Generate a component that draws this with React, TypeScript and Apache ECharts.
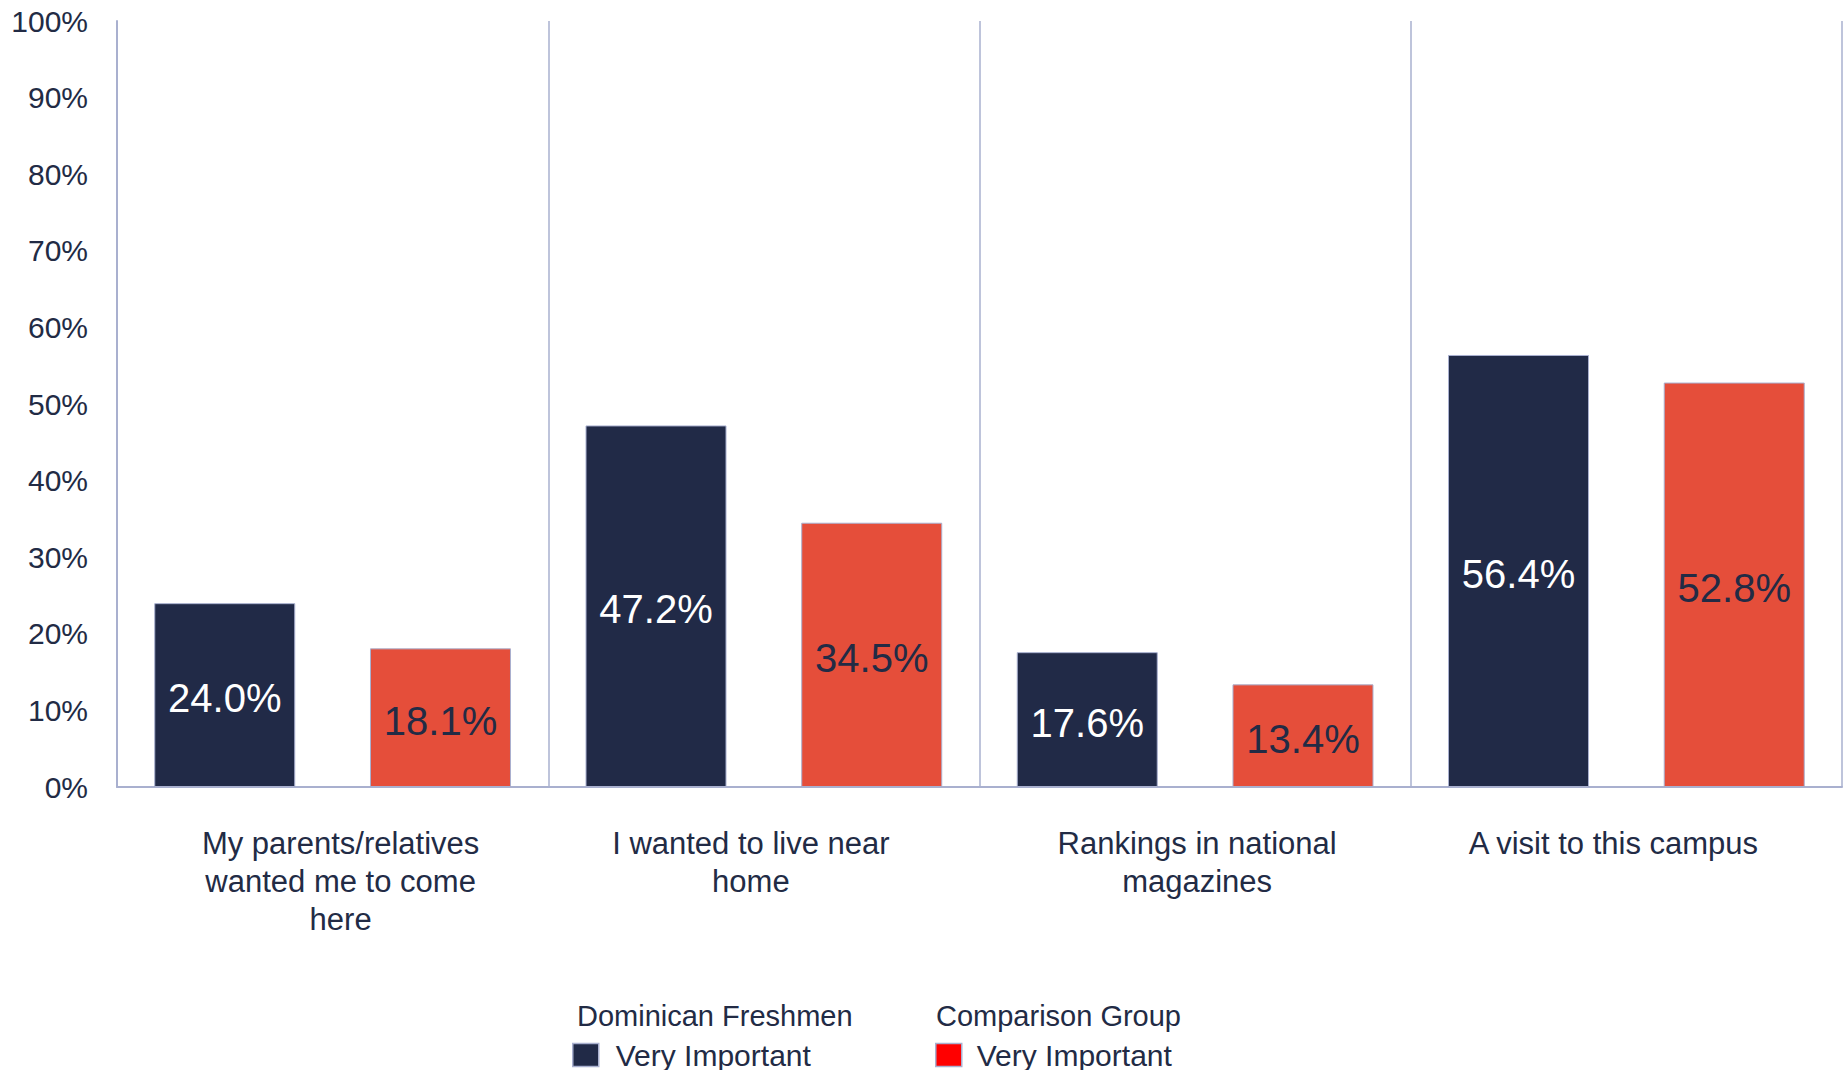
import React, { useEffect, useRef } from "react";
import * as echarts from "echarts";

const categories = [
  "My parents/relatives\nwanted me to come\nhere",
  "I wanted to live near\nhome",
  "Rankings in national\nmagazines",
  "A visit to this campus",
];
const dominicanValues = [24.0, 47.2, 17.6, 56.4];
const comparisonValues = [18.1, 34.5, 13.4, 52.8];
const seriesNames = ["Dominican Freshmen", "Comparison Group"];
const legendLabel = "Very Important";
const yTicks = { min: 0, max: 100, interval: 10 };

const NAVY = "#212a47";
const RED = "#e54e3a";
const LINE = "#a9b0cf";
const TEXT = "#222b45";
const FONT = "'Liberation Sans', Arial, sans-serif";

// small horizontal nudges of the category labels, as in the reference
const labelShift = [8, -13, 2, -13];

export default function App() {
  const ref = useRef<HTMLDivElement>(null);
  useEffect(() => {
    if (!ref.current) return;
    const chart = echarts.init(ref.current, undefined, { renderer: "svg" });
    chart.setOption({
      animation: false,
      backgroundColor: "#ffffff",
      grid: { left: 117, right: 4, top: 21, bottom: 283, containLabel: false },
      xAxis: {
        type: "category",
        data: categories.map((c, i) => ({
          value: c,
          textStyle: {
            padding: labelShift[i] >= 0 ? [0, 0, 0, 2 * labelShift[i]] : [0, -2 * labelShift[i], 0, 0],
          },
        })),
        boundaryGap: true,
        axisLine: { show: true, lineStyle: { color: LINE, width: 2 } },
        axisTick: { show: false },
        splitLine: { show: true, lineStyle: { color: LINE, width: 1.5 } },
        axisLabel: {
          color: TEXT,
          fontFamily: FONT,
          fontSize: 31,
          lineHeight: 38,
          margin: 37,
          interval: 0,
        },
      },
      yAxis: {
        type: "value",
        min: yTicks.min,
        max: yTicks.max,
        interval: yTicks.interval,
        axisLine: { show: true, lineStyle: { color: LINE, width: 2 } },
        axisTick: { show: false },
        splitLine: { show: false },
        axisLabel: {
          formatter: "{value}%",
          color: TEXT,
          fontFamily: FONT,
          fontSize: 30,
          margin: 29,
        },
      },
      legend: [
        {
          left: 567,
          top: 1035,
          itemWidth: 26,
          itemHeight: 23,
          icon: "rect",
          data: [{ name: seriesNames[0], itemStyle: { color: NAVY, borderColor: LINE, borderWidth: 1.5 } }],
          formatter: () => legendLabel,
          textStyle: { color: TEXT, fontFamily: FONT, fontSize: 30, lineHeight: 30, padding: [0, 0, 0, 12] },
        },
        {
          left: 930,
          top: 1035,
          itemWidth: 26,
          itemHeight: 23,
          icon: "rect",
          data: [{ name: seriesNames[1], itemStyle: { color: "#ff0000", borderColor: LINE, borderWidth: 1.5 } }],
          formatter: () => legendLabel,
          textStyle: { color: TEXT, fontFamily: FONT, fontSize: 30, lineHeight: 30, padding: [0, 0, 0, 10] },
        },
      ],
      graphic: [
        {
          type: "text",
          left: 577,
          top: 1001,
          style: { text: seriesNames[0], fill: TEXT, font: `29px ${FONT}` },
        },
        {
          type: "text",
          left: 936,
          top: 1001,
          style: { text: seriesNames[1], fill: TEXT, font: `29px ${FONT}` },
        },
      ],
      series: [
        {
          name: seriesNames[0],
          type: "bar",
          data: dominicanValues,
          barWidth: 141,
          barGap: "53%",
          itemStyle: { color: NAVY, borderColor: LINE, borderWidth: 1 },
          label: {
            show: true,
            position: "inside",
            offset: [0, 3],
            color: "#ffffff",
            fontFamily: FONT,
            fontSize: 40,
            formatter: (p: any) => p.value.toFixed(1) + "%",
          },
        },
        {
          name: seriesNames[1],
          type: "bar",
          data: comparisonValues,
          barWidth: 141,
          itemStyle: { color: RED, borderColor: LINE, borderWidth: 1 },
          label: {
            show: true,
            position: "inside",
            offset: [0, 3],
            color: TEXT,
            fontFamily: FONT,
            fontSize: 40,
            formatter: (p: any) => p.value.toFixed(1) + "%",
          },
        },
      ],
    });
    return () => chart.dispose();
  }, []);
  return (
    <div
      ref={ref}
      style={{ position: "fixed", left: 0, top: 0, width: 1846, height: 1070, background: "#fff" }}
    />
  );
}
